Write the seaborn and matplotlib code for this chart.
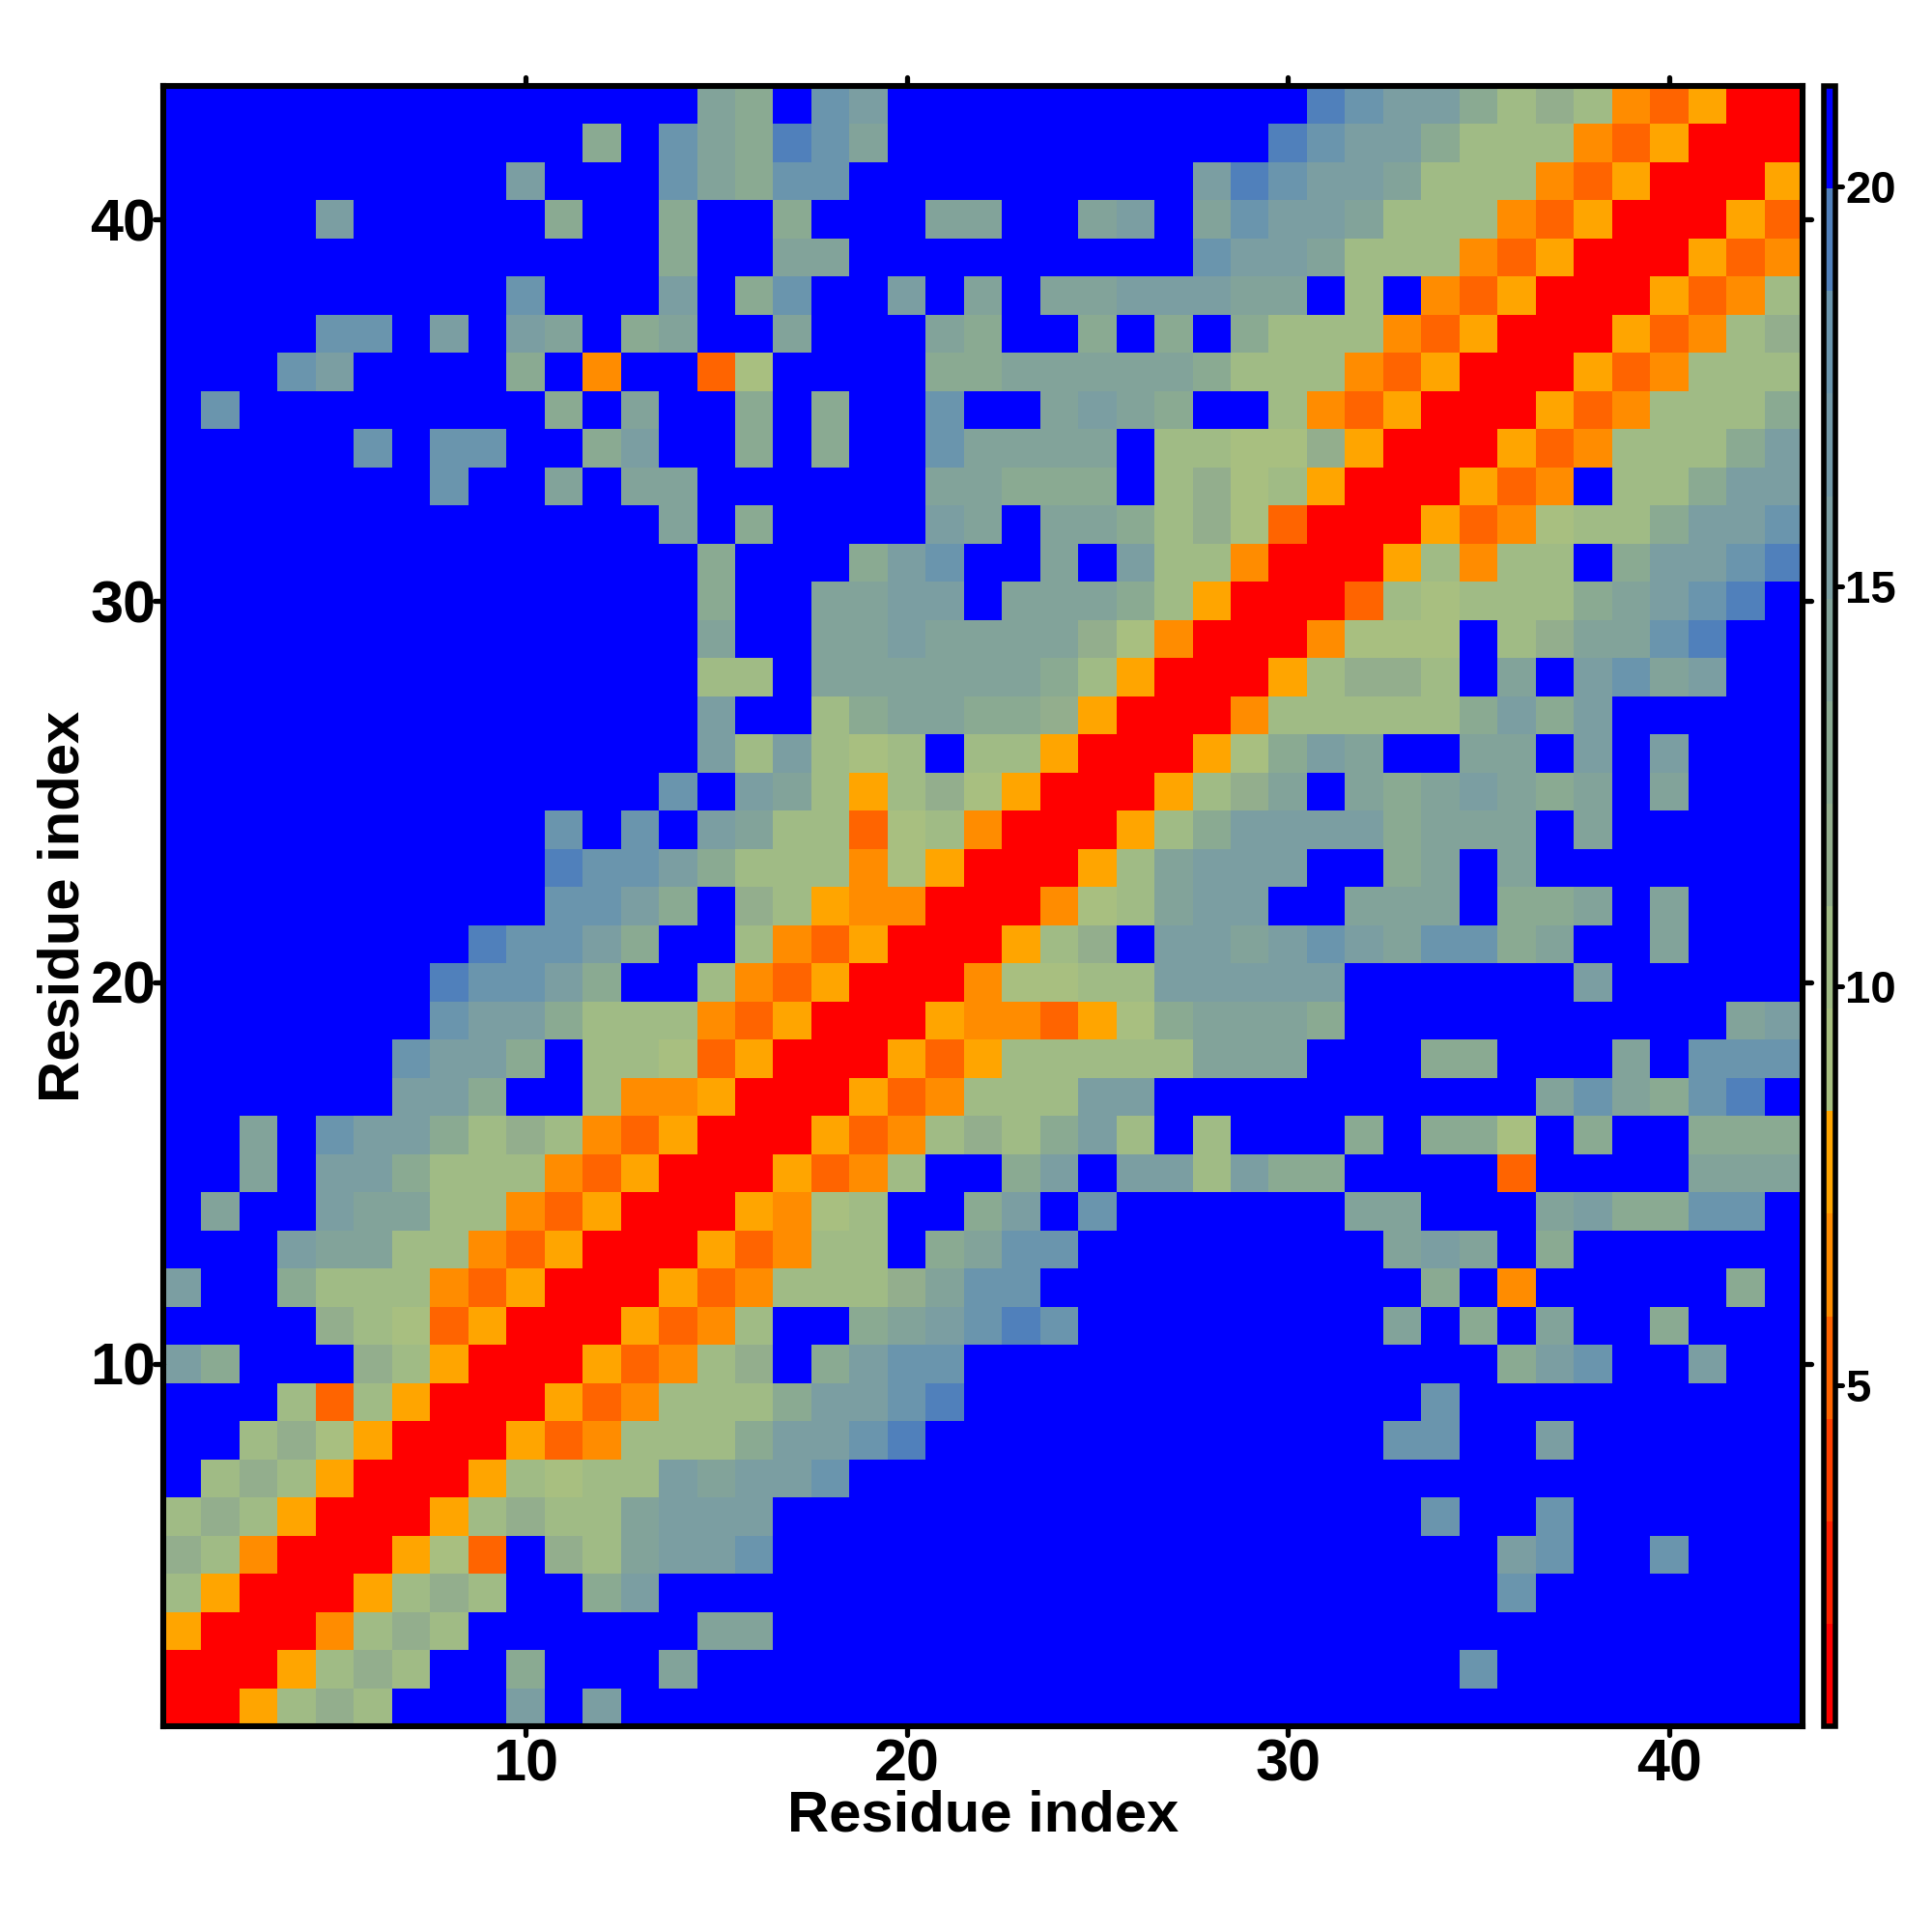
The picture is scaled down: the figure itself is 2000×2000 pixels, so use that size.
import matplotlib
matplotlib.use("Agg")
import matplotlib.pyplot as plt
from matplotlib.colors import ListedColormap
from matplotlib.markers import MarkerStyle
import numpy as np
import pandas as pd
import seaborn as sns

# Distance map, one string per residue from 43 (top) down to 1.
# Each letter is a distance class, see class_distance below. Spaces only split every ten residues.
map_rows = [
    ".......... ....ed.gf. .......... hgffdbcbMO YRR",
    ".......... .d.gedhge. .........h gffdbbbMOY RRR",
    ".........f ...gedgg.. .......fhg ffebbbMOYR RRY",
    "....f..... d..d..d... ee..ef.egf febbbMOYRR RYO",
    ".......... ...d..ee.. .......gff ebbbMOYRRR YOM",
    ".........g ...f.dg..f .e.eefffee .b.MOYRRRY OMb",
    "....gg.f.f e.de..e... ed..d.d.db bbMOYRRRYO Mbc",
    "...gf....d .M..Oa.... ddeeeeedbb bMOYRRRYOM bbb",
    ".g........ d.e..d.d.. g..efed..b MOYRRRYOMb bbd",
    ".....g.gg. .df..d.d.. geeee.bbaa cYRRRYOMbb bdf",
    ".......g.. e.ee...... eeddd.bcab YRRRYOM.bb dff",
    ".......... ...e.d.... fe.eedbcaO RRRYOMabbd ffg",
    ".......... ....d...df g..e.fbbMR RRYbMbb.df fgh",
    ".......... ....d..eef f.eeedbYRR RObabbbdef gh.",
    ".......... ....e..eef eeeecaMRRR Maaa.bceeg h..",
    ".......... ....bb.eee eeedbYRRRY bccb.e.fge f..",
    ".......... ....f..bde eddcYRRRMb bbbbdfdf.. ...",
    ".......... ....fbfbab .bbYRRRYad fe..ee.f.f ...",
    ".......... ...g.febYb caYRRRYbce .edefede.e ...",
    ".......... g.g.febbOa bMRRRYbdff ffdeee.e.. ...",
    ".......... hggfdbbbMa YRRRYbefff ..de.e.... ...",
    ".......... ggfd.cbYMM RRRMabeff. .eee.dde.e ...",
    "........hg gfd..bMOYR RRYbc.ffef gfeggde..e ...",
    ".......hgg fd..bMOYRR RMaabbffff f......f.. ...",
    ".......gff dbbbMOYRRR YMMOYadeee d......... .ef",
    "......gffd .bbaOYRRRY OYbbbbbeee ...dd...e. ggg",
    "......ffd. .bMMYRRRYO Mbbbff.... ......eged gh.",
    "..e.gffdbc bMOYRRRYOM bcbdfb.b.. .d.dda.d.. ddd",
    "..e.ffdbbb MOYRRRYOMb ..df.ffbfd d....O.... eee",
    ".e..feebbM OYRRRYMab. .df.g..... .ee...efdd gg.",
    "...feebbMO YRRRYOMbb. degg...... ..efe.d... ...",
    "f..dbbbMOY RRRYOMbbbc egg....... ...d.M.... .d.",
    "....cbaOYR RRYOMb..de fghg...... ..e.d.e..d ...",
    "fd...cbYRR RYOMbc.dfg g......... .....dfg.. f..",
    "...bObYRRR YOMbbbdffg h......... ...g...... ...",
    "..bcaYRRRY OMbbbdffgh .......... ..gg..f... ...",
    ".bcbYRRRYb abbfeffg.. .......... .......... ...",
    "bcbYRRRYbc bbefff.... .......... ...g..g... ...",
    "cbMRRRYaO. cbeffg.... .......... .....fg..g ...",
    "bYRRRYbcb. .df....... .......... .....g.... ...",
    "YRRRMbcb.. ....ee.... .......... .......... ...",
    "RRRYbcb..d ...e...... .......... ....g..... ...",
    "RRYbcb...f .f........ .......... .......... ...",
]

# Middle of each distance class, in the units of the colour bar
class_distance = {"R": 1.38, "O": 5.22, "M": 6.5, "Y": 7.78, "a": 9.06, "b": 10.34,
                  "c": 11.62, "d": 12.9, "e": 14.18, "f": 15.46, "g": 18.02,
                  "h": 19.3, ".": 20.6}

# The colour bar has 16 equal steps
step_colors = ["#ff0000", "#ff2000", "#ff4000", "#ff6400", "#ff8c00", "#ffa500",
               "#a8bf80", "#a0bb85", "#93ae8d", "#8aaa92", "#82a39a", "#7b9ea2",
               "#7399a8", "#6a95ad", "#5080bb", "#0000ff"]
color_min = 0.74
color_max = 21.26

residues = list(range(43, 0, -1))
tick_residues = [10, 20, 30, 40]
bar_ticks = [5, 10, 15, 20]

plt.rcParams["font.family"] = ["Liberation Sans", "DejaVu Sans"]
plt.rcParams["font.weight"] = "bold"

dist = pd.DataFrame(
    [[class_distance[c] for c in row.replace(" ", "")] for row in map_rows],
    index=residues,
    columns=residues[::-1],
)

fig = plt.figure(figsize=(10, 10), dpi=200)
ax = fig.add_axes([169 / 2000, 213 / 2000, 1697 / 2000, 1698 / 2000])
cax = fig.add_axes([1888 / 2000, 213 / 2000, 12 / 2000, 1698 / 2000])

sns.heatmap(dist, ax=ax, cbar_ax=cax, cmap=ListedColormap(step_colors),
            vmin=color_min, vmax=color_max, square=False,
            cbar_kws={"ticks": bar_ticks})

ax.set_xticks([t - 0.5 for t in tick_residues], labels=tick_residues, rotation=0)
ax.set_yticks([43.5 - t for t in tick_residues], labels=tick_residues, rotation=0,
              va="center_baseline")
ax.tick_params(axis="both", length=3.2, width=1.9, labelsize=22, top=True, right=True,
               labeltop=False, labelright=False)
ax.tick_params(axis="x", pad=1.2)
ax.tick_params(axis="y", pad=-0.5)
ax.set_xlabel("Residue index", fontsize=21.5, fontweight="bold", labelpad=-1.5)
ax.set_ylabel("Residue index", fontsize=21.5, fontweight="bold", labelpad=0)
for spine in ax.spines.values():
    spine.set_visible(True)
    spine.set_linewidth(2.2)
    spine.set_color("black")

cbar = ax.collections[0].colorbar
cbar.outline.set_visible(True)
cbar.outline.set_linewidth(2.0)
cbar.outline.set_edgecolor("black")
cax.tick_params(axis="y", length=2.6, width=1.8, labelsize=17, pad=1)

# round tick ends like the original
for axis in [ax.xaxis, ax.yaxis, cax.yaxis]:
    for tl in axis.get_ticklines():
        tl.set_marker(MarkerStyle(tl.get_marker(), capstyle="round"))

fig.savefig("out.png", dpi=200)
